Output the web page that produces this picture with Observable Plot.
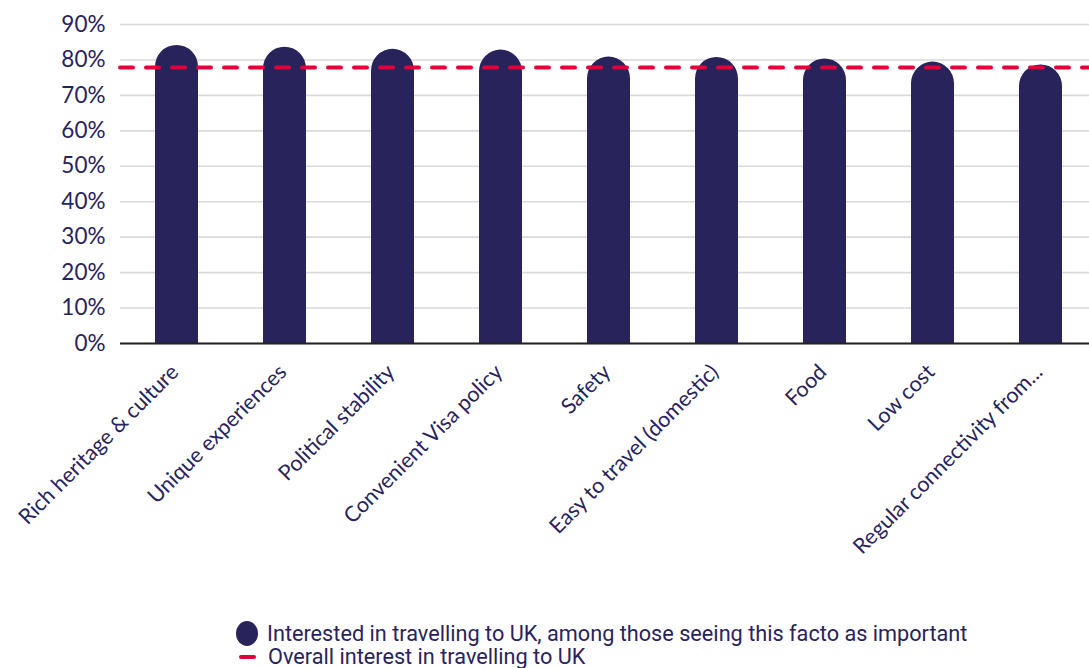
<!DOCTYPE html>
<html><head><meta charset="utf-8">
<script src="https://cdn.jsdelivr.net/npm/d3@7"></script>
<script src="https://cdn.jsdelivr.net/npm/@observablehq/plot@0.6"></script>
<style>
html,body{margin:0;padding:0;background:#fff;overflow:hidden;}
#legend{font-family:"Roboto","Liberation Sans",sans-serif;color:#29235c;font-size:21.7px;line-height:22px;padding-top:21px;margin-left:236px;}
#legend .row{display:flex;align-items:center;white-space:nowrap;}
#legend .dot{display:inline-block;width:22px;height:25px;border-radius:50%;background:#29235c;margin-right:9px;}
#legend .dash{display:inline-block;width:17px;height:4px;border-radius:2px;background:#e4003b;margin:0 12px 0 3px;}
</style></head><body><div id="chart"></div><div id="legend"></div>
<script>
const categories = ["Rich heritage & culture","Unique experiences","Political stability","Convenient Visa policy","Safety","Easy to travel (domestic)","Food","Low cost","Regular connectivity from..."];
const interested = [84.1, 83.6, 83.0, 82.8, 80.8, 80.7, 80.3, 79.4, 78.6];
const overallInterest = 77.9;
const yTicks = [0,10,20,30,40,50,60,70,80,90];
const seriesNames = ["Interested in travelling to UK, among those seeing this facto as important","Overall interest in travelling to UK"];

const navy = "#29235c", red = "#e4003b";
const data = categories.map((c,i)=>({cat:c, value:interested[i]}));

const chart = Plot.plot({
  width: 1089, height: 600,
  marginLeft: 120, marginRight: -8, marginTop: 24, marginBottom: 257,
  style: {color: navy, background: "#fff"},
  x: {domain: categories, paddingInner: 0.6, paddingOuter: 0.3, label: null},
  y: {domain: [0,90], label: null},
  marks: [
    Plot.gridY(yTicks, {stroke:"#d9d9d9", strokeOpacity:1, strokeWidth:1.6}),
    Plot.barY(data, {x:"cat", y1: -8, y2:"value", fill: navy, rx: 21.7, clip: true}),
    Plot.ruleY([0], {stroke:"#222", strokeWidth:2}),
    Plot.ruleY([overallInterest], {stroke: red, strokeWidth:4, strokeDasharray:"13,13", strokeLinecap:"round"}),
    Plot.axisY({ticks: yTicks, tickFormat: d => d + "%", tickSize: 0, tickPadding: 15, fontSize: 22.5, fontFamily: "Lato", fill: navy}),
    Plot.axisX({tickSize: 0, tickPadding: 25, dx: -2, tickRotate: -45, fontSize: 21.5, fontFamily: "Lato", fill: navy})
  ]
});
document.getElementById("chart").appendChild(chart);

const lg = document.getElementById("legend");
lg.innerHTML = `<div class="row"><span class="dot"></span>${seriesNames[0]}</div><div class="row"><span class="dash"></span>${seriesNames[1]}</div>`;
</script>
</body></html>
